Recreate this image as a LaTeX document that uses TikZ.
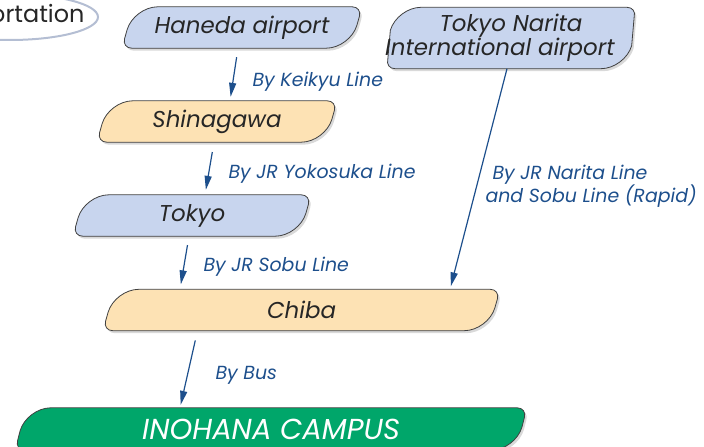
\documentclass[tikz,border=0pt]{standalone}
\usepackage{fontspec}
\setmainfont{Poppins}
\usetikzlibrary{arrows.meta,shadows,backgrounds}

\definecolor{skyfill}{HTML}{C8D5EE}
\definecolor{sandfill}{HTML}{FDE2B4}
\definecolor{campusgreen}{HTML}{00A66A}
\definecolor{routeblue}{HTML}{1D4F8C}
\definecolor{rimgray}{HTML}{B4BED3}

\tikzset{
  station/.style={minimum height=41bp, inner sep=0pt, text=black!85,
    font=\fontsize{23}{24}\selectfont\itshape},
  route/.style={routeblue, line width=1.2bp, -{Triangle[length=14bp,width=7bp]}},
  via/.style={routeblue, anchor=west, font=\fontsize{19}{23}\selectfont\itshape},
  boxline/.style={draw=black!75, line width=0.8bp,
    drop shadow={shadow xshift=2bp, shadow yshift=-2.5bp, opacity=0.3}}
}

% slanted box behind a node: big round top-left and bottom-right
\newcommand{\slantbox}[2]{%
  \path[boxline, fill=#2]
    ([xshift=10bp]#1.south west)
    .. controls ([xshift=4.5bp]#1.south west) and ([xshift=1.3bp,yshift=4.3bp]#1.south west)
    .. ([xshift=2.8bp,yshift=9.6bp]#1.south west)
    -- ([xshift=5.3bp,yshift=-23bp]#1.north west)
    .. controls ([xshift=9bp,yshift=-10.3bp]#1.north west) and ([xshift=22.8bp]#1.north west)
    .. ([xshift=36bp]#1.north west)
    -- ([xshift=-10bp]#1.north east)
    .. controls ([xshift=-4.5bp]#1.north east) and ([xshift=-1.3bp,yshift=-4.3bp]#1.north east)
    .. ([xshift=-2.8bp,yshift=-9.6bp]#1.north east)
    -- ([xshift=-5.3bp,yshift=23bp]#1.south east)
    .. controls ([xshift=-9bp,yshift=10.3bp]#1.south east) and ([xshift=-22.8bp]#1.south east)
    .. ([xshift=-36bp]#1.south east)
    -- cycle;}

\begin{document}
\begin{tikzpicture}[x=1bp,y=-1bp]
\useasboundingbox (0,0) rectangle (704,447);

\node[anchor=east, text=black!85, font=\fontsize{24}{26}\selectfont] (guide) at (88,17) {Transportation};
\draw[rimgray, line width=2bp] ([xshift=-78bp]guide.east) ellipse [x radius=88bp, y radius=23bp];

\node[station, minimum width=240bp] (haneda) at (242,27.5) {Haneda airport};
\node[station, minimum width=246bp, minimum height=61bp, align=center] (narita) at (511,38)
  {Tokyo Narita\\International airport\hspace*{22bp}};
\node[station, minimum width=240bp] (shinagawa) at (217,121.5) {Shinagawa};
\node[station, minimum width=238bp] (tokyo) at (192,215.5) {Tokyo};
\node[station, minimum width=397bp] (chiba) at (301.5,310) {Chiba};
\node[station, minimum width=512bp, minimum height=42bp, text=white,
  font=\fontsize{29}{30}\selectfont\itshape] (campus) at (271,429) {INOHANA CAMPUS};

\begin{scope}[on background layer]
\slantbox{haneda}{skyfill}
\slantbox{narita}{skyfill}
\slantbox{shinagawa}{sandfill}
\slantbox{tokyo}{skyfill}
\slantbox{chiba}{sandfill}
\slantbox{campus}{campusgreen}
\end{scope}

\node[via] (keikyu) at (249,82) {By Keikyu Line};
\node[via] (yokosuka) at (225,174) {By JR Yokosuka Line};
\node[via] (sobu) at (200,267) {By JR Sobu Line};
\node[via] (bus) at (212,375) {By Bus};
\node[via, align=left] (narline) at (482,186) {\hspace*{7bp}By JR Narita Line\\and Sobu Line (Rapid)};

\draw[route, shorten <=9bp, shorten >=4bp] ([xshift=-4bp]haneda.south) -- ([xshift=13bp]shinagawa.north);
\draw[route, shorten <=10bp, shorten >=5bp] ([xshift=-3bp]shinagawa.south) -- ([xshift=13bp]tokyo.north);
\draw[route, shorten <=9bp, shorten >=5bp] ([xshift=-3bp]tokyo.south) -- ([xshift=-121.5bp]chiba.north);
\draw[route, shorten <=10bp, shorten >=3bp] ([xshift=-104bp]chiba.south) -- ([xshift=-91bp]campus.north);
\draw[route, shorten >=3bp] ([xshift=-4bp]narita.south) -- ([xshift=148.5bp]chiba.north);
\end{tikzpicture}
\end{document}
